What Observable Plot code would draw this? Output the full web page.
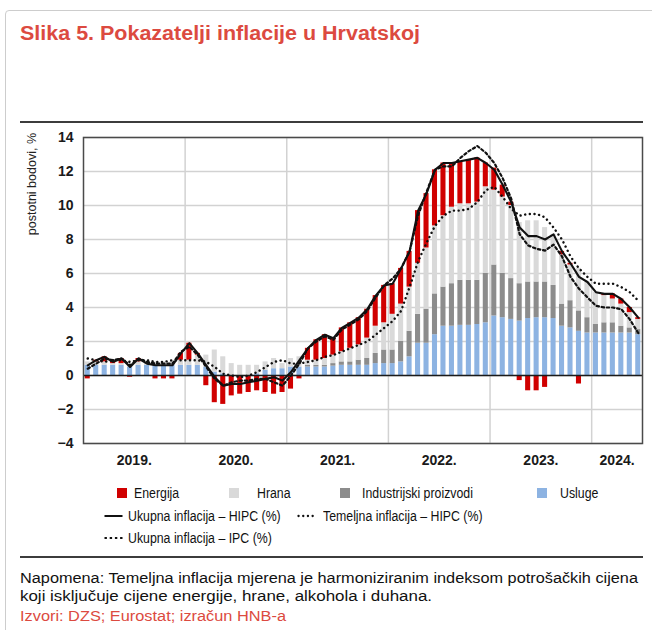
<!DOCTYPE html>
<html>
<head>
<meta charset="utf-8">
<script src="https://cdn.jsdelivr.net/npm/d3@7"></script>
<script src="https://cdn.jsdelivr.net/npm/@observablehq/plot@0.6"></script>
<style>
html,body{margin:0;padding:0;background:#fff;}
#page{position:relative;width:652px;height:630px;overflow:hidden;font-family:"Liberation Sans",Arial,sans-serif;color:#111;}
#box{position:absolute;left:5px;top:10px;width:720px;height:700px;border:1px solid #cdcdcd;border-radius:4px;box-sizing:border-box;}
.abs{position:absolute;white-space:nowrap;}
#title{left:20px;top:22px;font-size:20px;font-weight:bold;line-height:22px;color:#dc4a40;transform-origin:0 50%;}
.rule{position:absolute;left:20px;width:623px;height:2px;background:#3c3c3c;}
#chart{position:absolute;left:0;top:125px;}
#ylab{left:26px;top:133px;font-size:12.5px;line-height:13px;writing-mode:vertical-rl;transform:rotate(180deg);color:#222;}
.leg{font-size:14px;line-height:16px;transform:scaleX(0.88);transform-origin:0 50%;color:#111;}
.sw{position:absolute;width:10px;height:10px;}
.note{font-size:14px;line-height:16px;transform-origin:0 50%;color:#111;}
</style>
</head>
<body>
<div id="page">
  <div id="box"></div>
  <div id="title" class="abs">Slika 5. Pokazatelji inflacije u Hrvatskoj</div>
  <div class="rule" style="top:121px;"></div>
  <div id="chart"></div>
  <div id="ylab" class="abs">postotni bodovi, %</div>
  <div id="legend"></div>
  <div class="rule" style="top:556px;"></div>
  <div id="note1" class="abs note" style="left:20px;top:570px;">Napomena: Temeljna inflacija mjerena je harmoniziranim indeksom potrošačkih cijena</div>
  <div id="note2" class="abs note" style="left:20px;top:588px;">koji isključuje cijene energije, hrane, alkohola i duhana.</div>
  <div id="note3" class="abs note" style="left:20px;top:608px;color:#dc4a40;">Izvori: DZS; Eurostat; izračun HNB-a</div>
</div>
<script>
// ---- categories / labels ----
const yearLabels = ["2019.", "2020.", "2021.", "2022.", "2023.", "2024."];
const yTicks = [-4, -2, 0, 2, 4, 6, 8, 10, 12, 14];
const seriesNames = ["Energija", "Hrana", "Industrijski proizvodi", "Usluge"];
const seriesColors = ["#d00000", "#d9d9d9", "#8c8c8c", "#8db3e2"];
const lineNames = ["Ukupna inflacija – HIPC (%)", "Temeljna inflacija – HIPC (%)", "Ukupna inflacija – IPC (%)"];

// ---- monthly contributions (postotni bodovi), Jan 2019 – Jun 2024 ----
const energija = [
  -0.2, 0.1, 0.3, 0.1, 0.3, -0.1, 0.2, 0.0, -0.2, -0.2, -0.2, 0.4,
  1.0, 0.1, -0.6, -1.6, -1.7, -1.2, -1.1, -1.0, -0.9, -1.0, -1.1, -1.0,
  -0.8, -0.2, 0.7, 1.2, 1.4, 1.0, 1.4, 1.5, 1.6, 1.7, 1.8, 2.2,
  1.8, 2.1, 2.1, 3.1, 3.2, 3.3, 3.1, 2.6, 2.5, 2.6, 2.6, 1.4,
  1.3, 0.7, 0.2, -0.3, -0.9, -0.9, -0.7, 0.0, 0.2, 0.1, -0.5, 0.0,
  0.0, 0.1, 0.3, 0.3, 0.3, 0.1
];
const hrana = [
  0.2, 0.2, 0.2, 0.1, 0.1, 0.1, 0.2, 0.1, 0.2, 0.2, 0.2, 0.3,
  0.3, 0.6, 0.7, 1.3, 1.0, 0.7, 0.6, 0.6, 0.5, 0.5, 0.6, 0.3,
  0.5, 0.6, 0.3, 0.3, 0.4, 0.5, 0.6, 0.8, 0.9, 1.2, 1.6, 1.6,
  2.1, 2.2, 2.6, 3.0, 3.6, 4.0, 4.2, 4.5, 4.5, 4.5, 4.6, 5.1,
  4.4, 4.5, 4.3, 3.6, 3.6, 3.6, 3.2, 3.0, 2.9, 2.1, 2.5, 2.1,
  1.9, 1.6, 1.4, 1.3, 0.9, 0.6
];
const industrijski = [
  0, 0, 0, 0, 0, 0, 0, 0, 0, 0, 0, 0,
  0, 0, 0, 0, 0, 0, 0, 0, 0, 0, 0, 0,
  0, 0, 0.1, 0.1, 0.1, 0.15, 0.2, 0.2, 0.3, 0.4, 0.6, 0.8,
  0.8, 1.2, 1.5, 1.7, 2.0, 2.4, 2.3, 2.5, 2.65, 2.65, 2.6, 2.9,
  3.0, 2.6, 2.4, 2.2, 2.15, 2.1, 2.1, 1.95, 1.3, 1.6, 1.2, 0.9,
  0.5, 0.6, 0.6, 0.4, 0.3, 0.3
];
const usluge = [
  0.6, 0.6, 0.6, 0.6, 0.6, 0.5, 0.6, 0.6, 0.6, 0.6, 0.6, 0.6,
  0.6, 0.6, 0.5, 0.2, 0.1, 0.0, 0.0, 0.0, 0.1, 0.3, 0.4, 0.4,
  0.5, 0.5, 0.5, 0.5, 0.5, 0.55, 0.6, 0.6, 0.6, 0.6, 0.7, 0.7,
  0.7, 0.8, 1.1, 1.9, 1.9, 2.4, 2.9, 2.9, 2.95, 2.95, 3.0, 3.1,
  3.5, 3.4, 3.3, 3.2, 3.35, 3.4, 3.4, 3.35, 2.9, 2.8, 2.6, 2.5,
  2.5, 2.5, 2.5, 2.5, 2.5, 2.4
];
// ---- rates (%) ----
const hipc = [
  0.6, 0.9, 1.1, 0.8, 1.0, 0.5, 1.0, 0.7, 0.6, 0.6, 0.6, 1.3,
  1.9, 1.3, 0.6, -0.1, -0.6, -0.5, -0.5, -0.4, -0.3, -0.2, -0.1, -0.3,
  0.2, 0.9, 1.6, 2.1, 2.4, 2.2, 2.8, 3.1, 3.4, 3.9, 4.7, 5.3,
  5.4, 6.3, 7.3, 9.7, 10.7, 12.1, 12.5, 12.5, 12.6, 12.7, 12.8, 12.5,
  12.1, 11.2, 10.2, 8.7, 8.2, 8.2, 8.0, 8.3, 7.3, 6.6, 5.8, 5.5,
  4.9, 4.8, 4.8, 4.5, 4.0, 3.4
];
const temeljna = [
  1.0, 0.9, 0.8, 0.9, 0.9, 0.8, 0.9, 0.9, 0.8, 0.8, 0.9, 0.9,
  0.9, 0.9, 0.8, 0.5, 0.1, 0.0, -0.1, 0.0, 0.2, 0.5, 0.8, 0.9,
  0.7, 0.7, 0.8, 0.9, 1.1, 1.2, 1.4, 1.6, 1.8, 2.0, 2.4, 2.8,
  3.2, 3.8, 5.2, 6.7, 7.8, 8.8, 9.4, 9.7, 9.7, 9.8, 10.2, 10.9,
  11.1, 10.5, 9.8, 9.4, 9.5, 9.5, 9.3, 8.7, 8.0, 7.0, 6.3, 5.8,
  5.4, 5.4, 5.4, 5.2, 4.9, 4.4
];
const ipc = [
  0.4, 0.7, 1.0, 0.9, 1.0, 0.6, 1.0, 0.8, 0.7, 0.7, 0.7, 1.4,
  1.7, 1.2, 0.5, -0.2, -0.6, -0.4, -0.3, -0.3, -0.2, -0.2, -0.4, -0.6,
  0.0, 0.7, 1.6, 2.0, 2.3, 2.1, 2.7, 3.0, 3.3, 3.8, 4.6, 5.3,
  5.7, 6.3, 7.3, 9.4, 10.8, 12.1, 12.3, 12.3, 12.8, 13.2, 13.5, 13.1,
  12.5, 11.6, 10.4, 8.3, 7.65, 7.45, 7.35, 7.7, 7.0, 5.8, 5.1, 4.6,
  4.1, 4.0, 4.0, 3.9, 3.3, 2.5
];

// ---- build tables for Plot ----
const nMonths = hipc.length;
const stackOrder = [["Usluge", usluge], ["Industrijski proizvodi", industrijski], ["Hrana", hrana], ["Energija", energija]];
const bars = stackOrder.flatMap(([s, vals]) => vals.map((v, i) => ({m: i, m1: i + 1, s, v})));
const yearStarts = yearLabels.map((_, k) => k * 12).filter(v => v > 0);
const yearMid = yearLabels.map((_, k) => (k * 12 + Math.min(k * 12 + 12, nMonths)) / 2);
const yearByPos = new Map(yearMid.map((p, k) => [p, yearLabels[k]]));
const midX = (d, i) => i + 0.5;
const dotDash = "0.1,4.6";
const dashDash = "2.4,2.8";

const chart = Plot.plot({
  width: 652,
  height: 355,
  marginTop: 12,
  marginBottom: 37,
  marginLeft: 83,
  marginRight: 10,
  style: {fontFamily: "'Liberation Sans', Arial, sans-serif", fontSize: "14px", fontWeight: "bold", color: "#1a1a1a", background: "transparent", overflow: "visible"},
  x: {domain: [0, nMonths], ticks: yearMid, tickFormat: d => yearByPos.get(d), tickSize: 0, tickPadding: 12, label: null},
  y: {domain: [-4, 14], ticks: yTicks, tickFormat: d => d < 0 ? "\u2212" + Math.abs(d) : String(d), tickSize: 0, tickPadding: 10, label: null},
  color: {domain: seriesNames, range: seriesColors},
  marks: [
    Plot.ruleY(yTicks, {stroke: "#d2d2d2", strokeWidth: 1.5}),
    Plot.ruleX(yearStarts, {stroke: "#d2d2d2", strokeWidth: 1.5}),
    Plot.rectY(bars, {x1: "m", x2: "m1", y: "v", fill: "s", insetLeft: 1.7, insetRight: 1.7}),
    Plot.ruleY([0], {stroke: "#1a1a1a", strokeWidth: 1.4}),
    Plot.line(ipc, {x: midX, y: d => d, stroke: "#111", strokeWidth: 2.2, strokeDasharray: dashDash}),
    Plot.line(temeljna, {x: midX, y: d => d, stroke: "#111", strokeWidth: 2.4, strokeDasharray: dotDash, strokeLinecap: "round"}),
    Plot.line(hipc, {x: midX, y: d => d, stroke: "#111", strokeWidth: 2.1}),
    Plot.frame({stroke: "#4a4a4a", strokeWidth: 1.5})
  ]
});
document.getElementById("chart").appendChild(chart);

// ---- legend ----
const legend = document.getElementById("legend");
const swatchPos = [[117, 134], [229, 257], [340, 362], [537, 560]];
seriesNames.forEach((name, k) => {
  const [sx, tx] = swatchPos[k];
  const sw = document.createElement("div");
  sw.className = "sw";
  sw.style.left = sx + "px"; sw.style.top = "488px"; sw.style.background = seriesColors[k];
  legend.appendChild(sw);
  const t = document.createElement("div");
  t.className = "abs leg"; t.textContent = name;
  t.style.left = tx + "px"; t.style.top = "485px";
  legend.appendChild(t);
});
const lineLegend = [
  {name: lineNames[0], lx: 103, tx: 128, top: 516, kind: "solid"},
  {name: lineNames[1], lx: 297, tx: 323, top: 516, kind: "dot"},
  {name: lineNames[2], lx: 103, tx: 128, top: 538, kind: "dash"}
];
lineLegend.forEach(o => {
  const svg = d3.create("svg").attr("width", 21).attr("height", 6)
    .style("position", "absolute").style("left", o.lx + "px").style("top", (o.top - 3) + "px");
  const l = svg.append("line").attr("x1", 1.5).attr("x2", 19.5).attr("y1", 3).attr("y2", 3)
    .attr("stroke", "#111").attr("stroke-width", o.kind === "dot" ? 2.3 : 2);
  if (o.kind === "dot") l.attr("stroke-dasharray", dotDash).attr("stroke-linecap", "round");
  if (o.kind === "dash") l.attr("stroke-dasharray", dashDash);
  legend.appendChild(svg.node());
  const t = document.createElement("div");
  t.className = "abs leg"; t.textContent = o.name;
  t.style.left = o.tx + "px"; t.style.top = (o.top - 8) + "px";
  legend.appendChild(t);
});

// ---- fit text widths to the reference layout ----
function fitWidth(id, target) {
  const el = document.getElementById(id);
  const w = el.getBoundingClientRect().width;
  if (w > 0) el.style.transform = "scaleX(" + (target / w) + ")";
}
fitWidth("title", 400);
fitWidth("note1", 618);
fitWidth("note2", 412);
fitWidth("note3", 266);
</script>
</body>
</html>
